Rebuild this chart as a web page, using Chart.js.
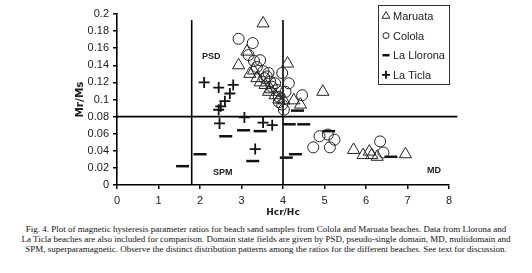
<html><head><meta charset="utf-8">
<script src="https://cdn.jsdelivr.net/npm/chart.js@4"></script>
<style>
  body { margin:0; background:#fff; }
  #wrap { position:absolute; left:0; top:0; width:532px; height:220px; }
  #cap { position:absolute; left:0; top:224px; width:532px; text-align:center;
         font-family:"Liberation Serif", serif; font-size:9px; line-height:10px; color:#111; }
</style>
</head>
<body>
<div id="wrap"><canvas id="myChart" width="532" height="220"></canvas></div>
<div id="cap">Fig. 4. Plot of magnetic hysteresis parameter ratios for beach sand samples from Colola and Maruata beaches. Data from Llorona and<br>La Ticla beaches are also included for comparison. Domain state fields are given by PSD, pseudo-single domain, MD, multidomain and<br>SPM, superparamagnetic. Observe the distinct distribution patterns among the ratios for the different beaches. See text for discussion.</div>
<script>
// Hcr/Hc , Mr/Ms pairs
var maruata = [[3.52,0.189],[2.93,0.140],[3.13,0.156],[3.29,0.134],[3.37,0.125],[3.57,0.117],[3.65,0.109],
  [3.81,0.105],[4.11,0.142],[4.42,0.094],[4.26,0.099],[4.02,0.099],[4.96,0.109],[3.2,0.13],[3.45,0.12],
  [3.7,0.112],[3.9,0.1],[5.7,0.041],[5.93,0.035],[6.08,0.039],[6.14,0.035],[6.27,0.033],[6.95,0.036]];
var colola = [[2.93,0.171],[3.27,0.166],[3.17,0.152],[3.45,0.146],[3.37,0.138],[3.53,0.133],[3.61,0.127],
  [3.69,0.121],[3.73,0.115],[3.86,0.111],[3.9,0.103],[3.98,0.094],[3.98,0.131],[4.14,0.119],[4.06,0.109],
  [4.46,0.105],[4.02,0.088],[3.9,0.097],[3.81,0.119],[3.65,0.131],[3.3,0.145],[3.55,0.125],
  [4.73,0.044],[4.88,0.057],[5.08,0.059],[5.24,0.053],[5.13,0.044],[6.34,0.051],[6.42,0.038]];
var llorona = [[1.58,0.022],[2.0,0.036],[2.62,0.057],[3.05,0.064],[3.45,0.063],[3.27,0.028],[4.08,0.032],
  [4.3,0.036],[4.15,0.071],[4.5,0.071],[4.35,0.087],[5.1,0.063],[6.6,0.033]];
var ticla = [[2.1,0.120],[2.45,0.114],[2.8,0.117],[2.72,0.107],[2.6,0.098],[2.5,0.092],[2.45,0.088],
  [2.47,0.072],[3.07,0.079],[3.52,0.073],[3.74,0.070],[3.33,0.042]];
var seriesNames = ['Maruata', 'Colola', 'La Llorona', 'La Ticla'];
// domain boundaries
var psdLeft = [[1.8,0],[1.8,0.193]];
var psdRight = [[4,0],[4,0.193]];
var mrLimit = [[0,0.08],[8.2,0.08]];
var xTicks = [0, 8, 1];
var yTicks = [0, 0.2, 0.02];

function pts(a){ return a.map(function(p){ return {x:p[0], y:p[1]}; }); }
var ink = '#222';

var datasets = [
  {label:seriesNames[0], data:pts(maruata), pointStyle:'triangle', pointRadius:7, borderColor:ink, backgroundColor:'rgba(0,0,0,0)', borderWidth:1},
  {label:seriesNames[1], data:pts(colola), pointStyle:'circle', pointRadius:5.5, borderColor:ink, backgroundColor:'rgba(0,0,0,0)', borderWidth:1},
  {label:seriesNames[2], data:pts(llorona), pointStyle:'line', pointRadius:6.5, borderColor:'#111', borderWidth:2.5},
  {label:seriesNames[3], data:pts(ticla), pointStyle:'cross', pointRadius:5.5, borderColor:'#111', borderWidth:1.8}
];
[psdLeft, psdRight, mrLimit].forEach(function(l){
  datasets.push({label:'', data:pts(l), showLine:true, pointRadius:0, borderColor:'#000', borderWidth:1.6, clip:false});
});

var extras = {
  id:'extras',
  afterDraw: function(chart){
    var ctx = chart.ctx, sx = chart.scales.x, sy = chart.scales.y;
    ctx.save();
    ctx.fillStyle = ink;
    ctx.font = 'bold 9px "Liberation Sans"';
    ctx.textAlign = 'center'; ctx.textBaseline = 'middle';
    ctx.fillText('PSD', sx.getPixelForValue(2.27), sy.getPixelForValue(0.15));
    ctx.fillText('SPM', sx.getPixelForValue(2.55), sy.getPixelForValue(0.015));
    ctx.fillText('MD', sx.getPixelForValue(7.64), sy.getPixelForValue(0.0164));
    // legend box
    ctx.strokeStyle = '#333'; ctx.lineWidth = 1;
    ctx.strokeRect(378.5, 5.5, 71, 79);
    ctx.textAlign = 'left';
    ctx.font = '11px "Liberation Sans"';
    var sizes = [4.5, 3, 3.5, 4];
    for (var i = 0; i < 4; i++) {
      var d = chart.data.datasets[i], y = 16 + i * 19.6;
      ctx.strokeStyle = d.borderColor; ctx.lineWidth = d.borderWidth;
      ctx.fillStyle = 'rgba(0,0,0,0)';
      Chart.helpers.drawPoint(ctx, {pointStyle:d.pointStyle, radius:sizes[i], rotation:0,
        borderWidth:d.borderWidth}, 386, y);
      ctx.fillStyle = ink;
      ctx.fillText(d.label, 393, y + 1);
    }
    ctx.restore();
  }
};

var ctx = document.getElementById('myChart');
var myChart = new Chart(ctx, {
  type: 'scatter',
  data: { datasets: datasets },
  plugins: [extras],
  options: {
    responsive: false,
    animation: false,
    layout: { padding: { top: 14, right: 83, left: 0, bottom: 0 } },
    plugins: { legend: { display: false }, tooltip: { enabled: false } },
    scales: {
      x: {
        type: 'linear', min: xTicks[0], max: xTicks[1],
        ticks: { stepSize: xTicks[2], color: ink, font: { family: 'Liberation Sans', size: 11 }, padding: 5 },
        grid: { drawOnChartArea: false, drawTicks: true, tickLength: 4, color: '#000', lineWidth: 1.5 },
        border: { display: true, color: '#000', width: 1.6 },
        title: { display: true, text: 'Hcr/Hc', color: ink, font: { family: 'DejaVu Sans', size: 9, weight: 'bold' }, padding: { top: 0, bottom: 1.6 } },
        afterFit: function(s){ s.height = 35; }
      },
      y: {
        type: 'linear', min: yTicks[0], max: yTicks[1],
        ticks: { stepSize: yTicks[2], color: ink, font: { family: 'Liberation Sans', size: 11 }, padding: 4,
          callback: function(v){ return String(+v.toFixed(2)); } },
        grid: { drawOnChartArea: false, drawTicks: true, tickLength: 4, color: '#000', lineWidth: 1.5 },
        border: { display: true, color: '#000', width: 1.6 },
        title: { display: true, text: 'Mr/Ms', color: ink, font: { family: 'DejaVu Sans', size: 10.5, weight: 'bold' }, padding: { top: 73.7, bottom: 0 } },
        afterFit: function(s){ s.width = 117; }
      }
    }
  }
});
</script>
</body></html>
